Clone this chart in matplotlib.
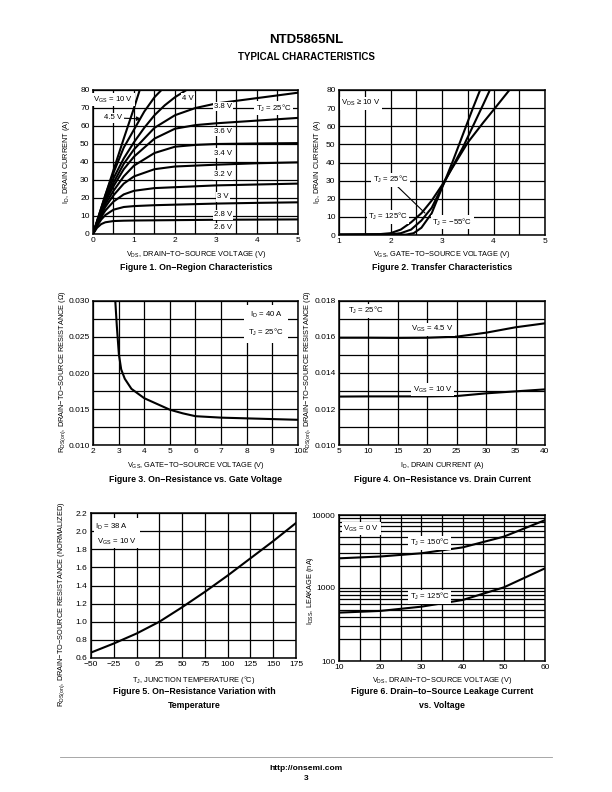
import matplotlib
matplotlib.use('Agg')
import matplotlib.pyplot as plt
from matplotlib.ticker import NullFormatter, FixedLocator

plt.rcParams['font.family'] = ['Liberation Sans', 'DejaVu Sans']
plt.rcParams['mathtext.default'] = 'regular'

W, H = 612, 792

# ---------------- Figure 1 data: ID vs VDS for several VGS ----------------
f1_vds = [0, 0.1, 0.2, 0.3, 0.5, 0.75, 1.0, 1.5, 2.0, 2.5, 3.0, 4.0, 5.0]
f1_id_26 = [0, 3.5, 5.5, 6.5, 7.2, 7.4, 7.5, 7.6, 7.7, 7.8, 7.9, 8.0, 8.1]
f1_id_28 = [0, 4.5, 8.0, 10.5, 13.5, 15.0, 15.5, 16.0, 16.3, 16.6, 16.9, 17.3, 17.6]
f1_id_30 = [0, 5.0, 9.5, 13.0, 18.0, 22.0, 24.0, 25.5, 26.0, 26.5, 27.0, 27.5, 28.0]
f1_id_32 = [0, 5.5, 10.5, 15.0, 21.5, 28.0, 32.0, 36.0, 37.5, 38.0, 38.5, 39.3, 39.8]
f1_id_34 = [0, 6.0, 11.5, 16.5, 24.0, 32.0, 38.0, 45.0, 48.5, 49.5, 50.0, 50.3, 50.5]
f1_id_36 = [0, 6.3, 12.5, 18.0, 26.5, 36.0, 43.0, 53.0, 58.5, 60.5, 61.5, 63.0, 64.5]
f1_id_38 = [0, 6.6, 13.0, 19.0, 28.5, 39.0, 47.0, 59.0, 66.0, 70.0, 72.5, 75.5, 78.5]
f1_vds_40 = [0, 0.1, 0.2, 0.3, 0.5, 0.75, 1.0, 1.25, 1.5, 1.75, 2.0, 2.28]
f1_id_40 = [0, 7.0, 13.5, 20.0, 31.0, 42.0, 51.0, 59.0, 66.0, 71.5, 76.0, 80.0]
f1_vds_45 = [0, 0.1, 0.2, 0.3, 0.5, 0.75, 1.0, 1.25, 1.5, 1.67]
f1_id_45 = [0, 7.2, 14.4, 21.5, 34.0, 48.0, 58.0, 68.0, 76.0, 80.0]
f1_vds_10 = [0, 0.1, 0.2, 0.3, 0.5, 0.75, 1.0, 1.14]
f1_id_10 = [0, 7.2, 14.4, 21.5, 35.5, 53.0, 70.0, 80.0]

# ---------------- Figure 2 data: transfer characteristics ----------------
f2_vgs_125 = [1.0, 1.8, 2.0, 2.2, 2.4, 2.6, 2.8, 3.0, 3.2, 3.5, 3.8, 4.0, 4.31]
f2_id_125 = [0.3, 0.5, 1.0, 3.0, 7.0, 12.0, 19.0, 27.5, 37.0, 51.0, 62.0, 69.0, 80.0]
f2_vgs_25 = [1.0, 2.0, 2.2, 2.4, 2.6, 2.8, 3.0, 3.2, 3.4, 3.6, 3.8, 3.93]
f2_id_25 = [0.2, 0.3, 1.0, 3.0, 8.0, 15.0, 26.5, 37.5, 48.0, 60.0, 72.0, 80.0]
f2_vgs_m55 = [1.0, 2.3, 2.45, 2.6, 2.8, 3.0, 3.2, 3.4, 3.6, 3.74]
f2_id_m55 = [0.1, 0.2, 1.0, 4.0, 12.0, 26.0, 40.0, 55.0, 70.0, 80.0]

# ---------------- Figure 3 data: RDS(on) vs VGS ----------------
f3_vgs = [2.87, 2.93, 3.01, 3.1, 3.24, 3.5, 4.0, 4.5, 5.0, 5.5, 6.0, 7.0, 8.0, 9.0, 10.0]
f3_rds = [0.0300, 0.0265, 0.0226, 0.0205, 0.0192, 0.0178, 0.0165, 0.0157, 0.0149, 0.0144, 0.0140, 0.0138, 0.0137, 0.0136, 0.0135]

# ---------------- Figure 4 data: RDS(on) vs ID ----------------
f4_id = [5, 10, 15, 20, 25, 30, 35, 40]
f4_rds_45 = [0.01596, 0.01596, 0.01595, 0.01596, 0.01602, 0.01624, 0.01654, 0.01676]
f4_rds_10 = [0.01269, 0.01270, 0.01270, 0.01270, 0.01272, 0.01287, 0.01298, 0.01309]

# ---------------- Figure 5 data: normalized RDS(on) vs TJ ----------------
f5_tj = [-50, -25, 0, 25, 50, 75, 100, 125, 150, 175]
f5_rn = [0.66, 0.76, 0.87, 1.00, 1.16, 1.33, 1.51, 1.70, 1.89, 2.09]

# ---------------- Figure 6 data: IDSS vs VDS ----------------
f6_vds = [10, 20, 30, 40, 50, 60]
f6_i_150 = [2550, 2700, 2990, 3600, 5050, 8500]
f6_i_125 = [460, 485, 555, 685, 1020, 1860]

fig = plt.figure(figsize=(W / 100, H / 100), dpi=100)


def ax_at(l, t, r, b):
    return fig.add_axes([l / W, 1 - b / H, (r - l) / W, (b - t) / H])


def style(ax):
    for s in ax.spines.values():
        s.set_linewidth(1.1)
        s.set_color('black')
    ax.tick_params(which='both', length=0, labelsize=6, pad=2.5)
    ax.grid(which='both', color='black', linewidth=0.9)
    ax.set_axisbelow(True)


def ftext(x, y, s, **kw):
    kw.setdefault('ha', 'center')
    kw.setdefault('va', 'center')
    fig.text(x / W, 1 - y / H, s, **kw)


LW = 1.5
box = dict(facecolor='white', edgecolor='none', pad=1.0)
lab = 5.6

# Header
ftext(306, 40, 'NTD5865NL', fontsize=9.5, fontweight='bold')
ftext(306, 57, 'TYPICAL CHARACTERISTICS', fontsize=7, fontweight='bold')

# ---------------- Figure 1 ----------------
ax1 = ax_at(93, 90, 298, 234)
style(ax1)
ax1.set_xlim(0, 5)
ax1.set_ylim(0, 80)
ax1.set_xticks([0, 1, 2, 3, 4, 5])
ax1.set_xticks([0.5, 1.5, 2.5, 3.5, 4.5], minor=True)
ax1.set_yticks(range(0, 81, 10))
for ys in [f1_id_26, f1_id_28, f1_id_30, f1_id_32, f1_id_34, f1_id_36, f1_id_38]:
    ax1.plot(f1_vds, ys, color='black', lw=LW)
ax1.plot(f1_vds_40, f1_id_40, color='black', lw=LW)
ax1.plot(f1_vds_45, f1_id_45, color='black', lw=LW)
ax1.plot(f1_vds_10, f1_id_10, color='black', lw=LW)
ax1.text(0.5, 74.5, 'V$_{GS}$ = 10 V', fontsize=lab, ha='center', va='center', bbox=box)
ax1.annotate('4.5 V', xy=(1.17, 64), xytext=(0.5, 64.5), fontsize=lab, ha='center', va='center',
             bbox=box, arrowprops=dict(arrowstyle='-|>', color='black', lw=0.8, mutation_scale=6,
                                       shrinkA=0, shrinkB=0))
ax1.text(2.32, 75.5, '4 V', fontsize=lab, ha='center', va='center', bbox=box)
ax1.text(3.17, 70.8, '3.8 V', fontsize=lab, ha='center', va='center', bbox=box)
ax1.text(4.4, 70, 'T$_J$ = 25°C', fontsize=lab, ha='center', va='center', bbox=box)
ax1.text(3.17, 56.9, '3.6 V', fontsize=lab, ha='center', va='center', bbox=box)
ax1.text(3.17, 44.8, '3.4 V', fontsize=lab, ha='center', va='center', bbox=box)
ax1.text(3.17, 32.8, '3.2 V', fontsize=lab, ha='center', va='center', bbox=box)
ax1.text(3.17, 20.7, '3 V', fontsize=lab, ha='center', va='center', bbox=box)
ax1.text(3.17, 10.6, '2.8 V', fontsize=lab, ha='center', va='center', bbox=box)
ax1.text(3.17, 3.5, '2.6 V', fontsize=lab, ha='center', va='center', bbox=box)
ftext(196, 255, 'V$_{DS}$, DRAIN−TO−SOURCE VOLTAGE (V)', fontsize=5.3)
ftext(196, 267, 'Figure 1. On−Region Characteristics', fontsize=6.3, fontweight='bold')
ftext(66, 162, 'I$_D$, DRAIN CURRENT (A)', fontsize=5.3, rotation=90)

# ---------------- Figure 2 ----------------
ax2 = ax_at(339, 90, 545, 235)
style(ax2)
ax2.set_xlim(1, 5)
ax2.set_ylim(0, 80)
ax2.set_xticks([1, 2, 3, 4, 5])
ax2.set_xticks([1.5, 2.5, 3.5, 4.5], minor=True)
ax2.set_yticks(range(0, 81, 10))
ax2.plot(f2_vgs_125, f2_id_125, color='black', lw=LW)
ax2.plot(f2_vgs_25, f2_id_25, color='black', lw=LW)
ax2.plot(f2_vgs_m55, f2_id_m55, color='black', lw=LW)
ax2.text(1.43, 72.7, 'V$_{DS}$ ≥ 10 V', fontsize=lab, ha='center', va='center', bbox=box)
ax2.annotate('T$_J$ = 25°C', xy=(2.67, 12.1), xytext=(2.0, 30.5), fontsize=lab, ha='center',
             va='center', bbox=box,
             arrowprops=dict(arrowstyle='-', color='black', lw=0.8, shrinkA=0, shrinkB=0))
ax2.text(1.95, 10, 'T$_J$ = 125°C', fontsize=lab, ha='center', va='center', bbox=box)
ax2.text(3.2, 7, 'T$_J$ = −55°C', fontsize=lab, ha='center', va='center', bbox=box)
ftext(442, 255, 'V$_{GS}$, GATE−TO−SOURCE VOLTAGE (V)', fontsize=5.3)
ftext(442, 267, 'Figure 2. Transfer Characteristics', fontsize=6.3, fontweight='bold')
ftext(317, 162, 'I$_D$, DRAIN CURRENT (A)', fontsize=5.3, rotation=90)

# ---------------- Figure 3 ----------------
ax3 = ax_at(93, 301, 298, 445)
style(ax3)
ax3.set_xlim(2, 10)
ax3.set_ylim(0.010, 0.030)
ax3.set_xticks(range(2, 11))
ax3.set_yticks([0.010, 0.015, 0.020, 0.025, 0.030])
ax3.set_yticks([0.0125, 0.0175, 0.0225, 0.0275], minor=True)
ax3.set_yticklabels(['0.010', '0.015', '0.020', '0.025', '0.030'])
ax3.plot(f3_vgs, f3_rds, color='black', lw=LW)
ax3.text(8.76, 0.0281, 'I$_D$ = 40 A', fontsize=lab, ha='center', va='center')
ax3.text(8.76, 0.0256, 'T$_J$ = 25°C', fontsize=lab, ha='center', va='center')
ax3.add_patch(plt.Rectangle((7.9, 0.0242), 1.7, 0.0053, facecolor='white', edgecolor='none', zorder=1.5))
ftext(196, 466, 'V$_{GS}$, GATE−TO−SOURCE VOLTAGE (V)', fontsize=5.3)
ftext(196, 480, 'Figure 3. On−Resistance vs. Gate Voltage', fontsize=6.3, fontweight='bold')
ftext(63, 372, 'R$_{DS(on)}$, DRAIN−TO−SOURCE RESISTANCE (Ω)', fontsize=5.3, rotation=90)

# ---------------- Figure 4 ----------------
ax4 = ax_at(339, 301, 545, 445)
style(ax4)
ax4.set_xlim(5, 40)
ax4.set_ylim(0.010, 0.018)
ax4.set_xticks(range(5, 41, 5))
ax4.set_yticks([0.010, 0.012, 0.014, 0.016, 0.018])
ax4.set_yticks([0.011, 0.013, 0.015, 0.017], minor=True)
ax4.set_yticklabels(['0.010', '0.012', '0.014', '0.016', '0.018'])
ax4.plot(f4_id, f4_rds_45, color='black', lw=LW)
ax4.plot(f4_id, f4_rds_10, color='black', lw=LW)
ax4.text(9.6, 0.01746, 'T$_J$ = 25°C', fontsize=lab, ha='center', va='center', bbox=box)
ax4.text(20.9, 0.01643, 'V$_{GS}$ = 4.5 V', fontsize=lab, ha='center', va='center', bbox=box)
ax4.text(20.9, 0.01306, 'V$_{GS}$ = 10 V', fontsize=lab, ha='center', va='center', bbox=box)
ftext(442, 466, 'I$_D$, DRAIN CURRENT (A)', fontsize=5.3)
ftext(442, 480, 'Figure 4. On−Resistance vs. Drain Current', fontsize=6.3, fontweight='bold')
ftext(308, 372, 'R$_{DS(on)}$, DRAIN−TO−SOURCE RESISTANCE (Ω)', fontsize=5.3, rotation=90)

# ---------------- Figure 5 ----------------
ax5 = ax_at(91, 513, 296, 658)
style(ax5)
ax5.set_xlim(-50, 175)
ax5.set_ylim(0.6, 2.2)
ax5.set_xticks(range(-50, 176, 25))
ax5.set_yticks([0.6, 0.8, 1.0, 1.2, 1.4, 1.6, 1.8, 2.0, 2.2])
ax5.set_yticklabels(['0.6', '0.8', '1.0', '1.2', '1.4', '1.6', '1.8', '2.0', '2.2'])
ax5.plot(f5_tj, f5_rn, color='black', lw=LW)
ax5.add_patch(plt.Rectangle((-47, 1.81), 51, 0.34, facecolor='white', edgecolor='none', zorder=1.5))
ax5.text(-27, 2.05, 'I$_D$ = 38 A', fontsize=lab, ha='center', va='center')
ax5.text(-21.5, 1.88, 'V$_{GS}$ = 10 V', fontsize=lab, ha='center', va='center')
ftext(194, 680, 'T$_J$, JUNCTION TEMPERATURE (°C)', fontsize=5.3)
ftext(194, 692, 'Figure 5. On−Resistance Variation with', fontsize=6.3, fontweight='bold')
ftext(194, 705, 'Temperature', fontsize=6.3, fontweight='bold')
ftext(62, 604, 'R$_{DS(on)}$, DRAIN−TO−SOURCE RESISTANCE (NORMALIZED)', fontsize=5.3, rotation=90)

# ---------------- Figure 6 ----------------
ax6 = ax_at(339, 515, 545, 661)
style(ax6)
ax6.set_yscale('log')
ax6.set_xlim(10, 60)
ax6.set_ylim(100, 10000)
ax6.set_xticks(range(10, 61, 10))
ax6.set_xticks(range(15, 60, 10), minor=True)
ax6.yaxis.set_major_locator(FixedLocator([100, 1000, 10000]))
ax6.set_yticklabels(['100', '1000', '10000'])
ax6.yaxis.set_minor_locator(FixedLocator([m * d for d in (100, 1000) for m in range(2, 10)]))
ax6.yaxis.set_minor_formatter(NullFormatter())
ax6.plot(f6_vds, f6_i_150, color='black', lw=LW)
ax6.plot(f6_vds, f6_i_125, color='black', lw=LW)
ax6.text(15.4, 6450, 'V$_{GS}$ = 0 V', fontsize=lab, ha='center', va='center', bbox=box)
ax6.text(32, 4180, 'T$_J$ = 150°C', fontsize=lab, ha='center', va='center', bbox=box)
ax6.text(32, 760, 'T$_J$ = 125°C', fontsize=lab, ha='center', va='center', bbox=box)
ftext(442, 680, 'V$_{DS}$, DRAIN−TO−SOURCE VOLTAGE (V)', fontsize=5.3)
ftext(442, 692, 'Figure 6. Drain−to−Source Leakage Current', fontsize=6.3, fontweight='bold')
ftext(442, 705, 'vs. Voltage', fontsize=6.3, fontweight='bold')
ftext(311, 590, 'I$_{DSS}$, LEAKAGE (nA)', fontsize=5.3, rotation=90)

# Footer
fig.add_artist(plt.Line2D([60 / W, 552 / W], [1 - 757 / H, 1 - 757 / H], color='#999999', lw=0.6))
ftext(306, 768, 'http://onsemi.com', fontsize=6, fontweight='bold')
ftext(306, 779, '3', fontsize=6, fontweight='bold')

fig.savefig('out.png', dpi=100)
